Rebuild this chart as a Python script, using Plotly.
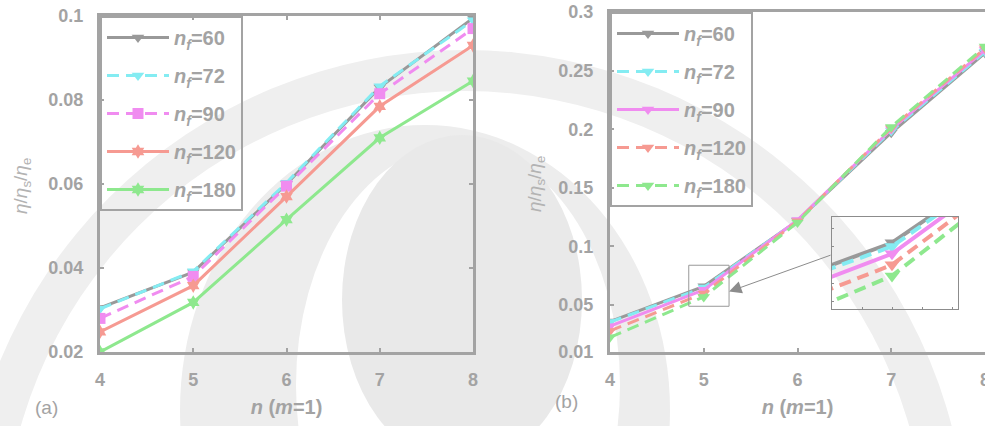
import plotly.graph_objects as go

# ---------------- data ----------------
n_vals = [4, 5, 6, 7, 8]
nf_labels = ["60", "72", "90", "120", "180"]

# panel (a)
a_nf60 = [0.0305, 0.0390, 0.0600, 0.0830, 0.0995]
a_nf72 = [0.0303, 0.0392, 0.0603, 0.0833, 0.0990]
a_nf90 = [0.0280, 0.0380, 0.0595, 0.0815, 0.0970]
a_nf120 = [0.0248, 0.0358, 0.0570, 0.0785, 0.0930]
a_nf180 = [0.0200, 0.0318, 0.0515, 0.0710, 0.0845]

# panel (b)
b_nf60 = [0.0360, 0.0660, 0.1220, 0.1970, 0.2650]
b_nf72 = [0.0355, 0.0650, 0.1222, 0.1985, 0.2660]
b_nf90 = [0.0320, 0.0630, 0.1225, 0.2000, 0.2675]
b_nf120 = [0.0280, 0.0600, 0.1215, 0.2010, 0.2690]
b_nf180 = [0.0225, 0.0570, 0.1205, 0.2020, 0.2705]

a_ticks = [0.02, 0.04, 0.06, 0.08, 0.1]
a_ticktext = ["0.02", "0.04", "0.06", "0.08", "0.1"]
b_ticks = [0.01, 0.05, 0.1, 0.15, 0.2, 0.25, 0.3]
b_ticktext = ["0.01", "0.05", "0.1", "0.15", "0.2", "0.25", "0.3"]

colors = ["#999999", "#84ECF2", "#F08CF0", "#F69A92", "#8EE88E"]
a_dash = ["solid", "12px,7px", "12px,7px", "solid", "solid"]
b_dash = ["solid", "12px,7px", "solid", "12px,7px", "12px,7px"]
a_symbols = ["triangle-down", "triangle-down", "square", "hexagram", "hexagram"]
b_symbols = ["triangle-down"] * 5

W, H = 985, 426
def px(x):
    return x / W
def py(y):
    return (H - y) / H

GRAY = "#a3a3a3"
FONT = "Liberation Sans"

fig = go.Figure()

a_series = [a_nf60, a_nf72, a_nf90, a_nf120, a_nf180]
b_series = [b_nf60, b_nf72, b_nf90, b_nf120, b_nf180]

def leg_name(lbl):
    return "<i>n</i><sub><i>f</i></sub>=" + lbl

for i, (lbl, ys) in enumerate(zip(nf_labels, a_series)):
    fig.add_trace(go.Scatter(
        x=n_vals, y=ys, mode="lines+markers", name=leg_name(lbl),
        line=dict(color=colors[i], width=3, dash=a_dash[i]),
        marker=dict(symbol=a_symbols[i], size=11, color=colors[i]),
        xaxis="x", yaxis="y", legend="legend", legendgroup="a" + lbl,
    ))

for i, (lbl, ys) in enumerate(zip(nf_labels, b_series)):
    fig.add_trace(go.Scatter(
        x=n_vals, y=ys, mode="lines+markers", name=leg_name(lbl),
        line=dict(color=colors[i], width=3, dash=b_dash[i]),
        marker=dict(symbol=b_symbols[i], size=11, color=colors[i]),
        xaxis="x2", yaxis="y2", legend="legend2", legendgroup="b" + lbl,
    ))

# inset (zoom of panel b near n=5)
for i, (lbl, ys) in enumerate(zip(nf_labels, b_series)):
    fig.add_trace(go.Scatter(
        x=n_vals, y=ys, mode="lines+markers", showlegend=False,
        line=dict(color=colors[i], width=4, dash=b_dash[i]),
        marker=dict(symbol=b_symbols[i], size=13, color=colors[i]),
        xaxis="x3", yaxis="y3",
    ))

tickfont = dict(family=FONT, size=18, color=GRAY, weight="bold")
titlefont = dict(family=FONT, size=20, color=GRAY, weight="bold")

common_axis = dict(showline=True, linecolor=GRAY, linewidth=3, ticks="inside",
                   ticklen=4, tickwidth=2, tickcolor=GRAY, showgrid=False,
                   zeroline=False, tickfont=tickfont, automargin=False,
                   ticklabeloverflow="allow")

fig.update_layout(
    width=W, height=H, margin=dict(l=0, r=0, t=0, b=0, autoexpand=False),
    paper_bgcolor="white", plot_bgcolor="rgba(0,0,0,0)",
    font=dict(family=FONT, color=GRAY),
    xaxis=dict(domain=[px(100), px(473)], range=[4, 8], tickvals=n_vals,
               mirror="ticks", anchor="y", ticklabelstandoff=9,
               title=dict(text="<i>n</i> (<i>m</i>=1)", font=titlefont, standoff=12),
               **common_axis),
    yaxis=dict(domain=[py(352), py(16)], range=[0.02, 0.1], tickvals=a_ticks,
               ticktext=a_ticktext, mirror="ticks", anchor="x",
               ticklabelstandoff=10, **common_axis),
    xaxis2=dict(domain=[px(610), 1.0], range=[4, 8], tickvals=n_vals,
                mirror=True, anchor="y2", ticklabelstandoff=9,
                title=dict(text="<i>n</i> (<i>m</i>=1)", font=titlefont, standoff=12),
                **common_axis),
    yaxis2=dict(domain=[py(352), py(12)], range=[0.01, 0.3], tickvals=b_ticks,
                ticktext=b_ticktext, mirror=False, anchor="x2",
                ticklabelstandoff=10, **common_axis),
    xaxis3=dict(domain=[px(832), px(958)], range=[4.80, 5.22], anchor="y3",
                showline=True, mirror=True, linecolor="#8c8c8c", linewidth=1,
                ticks="inside", ticklen=2, tickcolor="#8c8c8c", automargin=False,
                showticklabels=False, showgrid=False, zeroline=False),
    yaxis3=dict(domain=[py(309), py(217)], range=[0.048, 0.073], anchor="x3",
                showline=True, mirror=True, linecolor="#8c8c8c", linewidth=1,
                ticks="inside", ticklen=2, tickcolor="#8c8c8c", automargin=False,
                showticklabels=False, showgrid=False, zeroline=False),
    legend=dict(x=px(100), y=py(16), xanchor="left", yanchor="top",
                bgcolor="rgba(0,0,0,0)", bordercolor=GRAY, borderwidth=2,
                font=dict(family=FONT, size=20, color=GRAY, weight="bold"),
                tracegroupgap=9, itemwidth=62, traceorder="grouped"),
    legend2=dict(x=px(610), y=py(12), xanchor="left", yanchor="top",
                 bgcolor="rgba(0,0,0,0)", bordercolor=GRAY, borderwidth=2,
                 font=dict(family=FONT, size=20, color=GRAY, weight="bold"),
                 tracegroupgap=9, itemwidth=62, traceorder="grouped"),
)

# watermark-like background shapes (decorative)
def ellipse(cx, cy, rx, ry, color):
    return dict(type="circle", xref="paper", yref="paper", layer="below",
                x0=px(cx - rx), x1=px(cx + rx), y0=py(cy + ry), y1=py(cy - ry),
                fillcolor=color, line=dict(width=0))
shapes = [
    ellipse(465, 553, 503, 503, "#efefef"),
    ellipse(465, 553, 462, 462, "white"),
    ellipse(425, 410, 245, 285, "#ededed"),
    ellipse(458, 385, 162, 240, "white"),
    ellipse(462, 300, 120, 165, "#e9e9e9"),
]
# zoom box on panel b
shapes.append(dict(type="rect", xref="x2", yref="y2", x0=4.84, x1=5.27,
                   y0=0.049, y1=0.084, line=dict(color="#999999", width=1)))
fig.update_layout(shapes=shapes)

annotations = [
    dict(text="<i>η</i>/<i>η</i><sub>s</sub>/<i>η</i><sub>e</sub>", textangle=-90,
         x=px(22), y=py(186), xref="paper", yref="paper", showarrow=False,
         xanchor="center", yanchor="middle",
         font=dict(family=FONT, size=19, color="#b3b3b3")),
    dict(text="<i>η</i>/<i>η</i><sub>s</sub>/<i>η</i><sub>e</sub>", textangle=-90,
         x=px(536), y=py(184), xref="paper", yref="paper", showarrow=False,
         xanchor="center", yanchor="middle",
         font=dict(family=FONT, size=19, color="#b3b3b3")),
    dict(text="(a)", x=px(46), y=py(407), xref="paper", yref="paper",
         xanchor="center", yanchor="middle",
         showarrow=False, font=dict(family=FONT, size=19, color=GRAY)),
    dict(text="(b)", x=px(566), y=py(401), xref="paper", yref="paper",
         xanchor="center", yanchor="middle",
         showarrow=False, font=dict(family=FONT, size=19, color=GRAY)),
    dict(text="", x=5.27, y=0.0615, xref="x2", yref="y2", showarrow=True,
         ax=103, ay=-37, axref="pixel", ayref="pixel", arrowhead=2,
         arrowsize=2.5, arrowwidth=1, arrowcolor="#8c8c8c"),
]
fig.update_layout(annotations=annotations)

fig.write_html("out.html")
